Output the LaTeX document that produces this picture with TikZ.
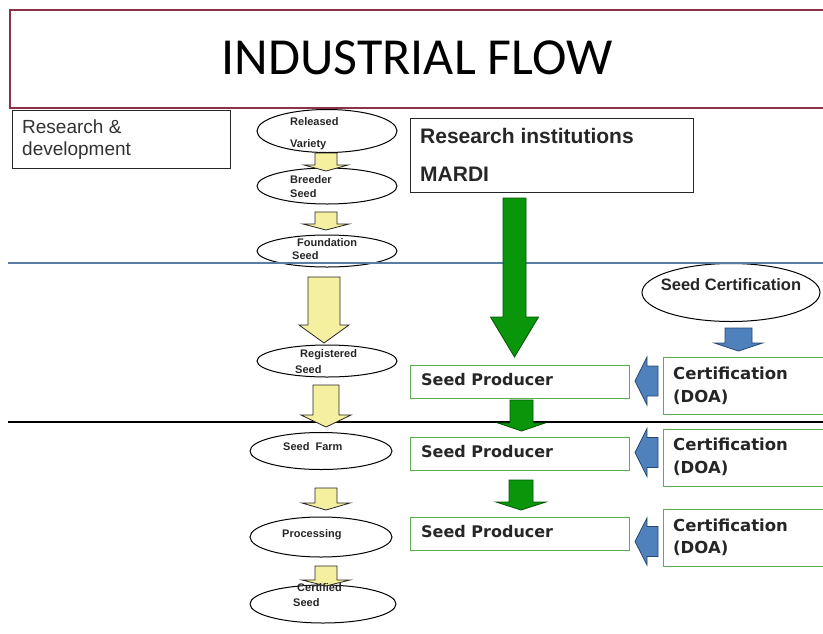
\documentclass[tikz,border=0pt]{standalone}
\usepackage{fontspec}
\setmainfont{Liberation Sans}
\newfontfamily\titlefont{Carlito}
\newfontfamily\dvfont{DejaVu Sans}
\usetikzlibrary{shapes.geometric}
\definecolor{titlered}{RGB}{140,50,70}
\definecolor{lineblue}{RGB}{90,125,165}
\definecolor{boxgreen}{RGB}{90,175,80}
\definecolor{arrgreen}{RGB}{10,150,10}
\definecolor{arrgreendk}{RGB}{0,85,0}
\definecolor{arrblue}{RGB}{79,129,189}
\definecolor{arrbluedk}{RGB}{40,70,110}
\definecolor{arryel}{RGB}{245,240,160}
% down block arrow: cx, top, headbase, tip, halfblock, halfhead, style
\newcommand{\dblock}[7]{\draw[#7] (#1-#5,#2) -- (#1+#5,#2) -- (#1+#5,#3) -- (#1+#6,#3) -- (#1,#4) -- (#1-#6,#3) -- (#1-#5,#3) -- cycle;}
% left block arrow: cy, xright, xbase, xtip, halfblock, halfhead, style
\newcommand{\lblock}[7]{\draw[#7] (#2,#1-#5) -- (#3,#1-#5) -- (#3,#1-#6) -- (#4,#1) -- (#3,#1+#6) -- (#3,#1+#5) -- (#2,#1+#5) -- cycle;}
\tikzset{
  seedell/.style={ellipse, draw=black, line width=1pt, fill=white, inner sep=0},
  yarr/.style={fill=arryel, draw=black!85, line width=0.8pt},
  garr/.style={fill=arrgreen, draw=arrgreendk, line width=0.8pt},
  barr/.style={fill=arrblue, draw=arrbluedk, line width=0.8pt},
  prodbox/.style={draw=boxgreen, line width=1.2pt, minimum width=219pt, minimum height=33pt, anchor=north west, inner sep=0},
  certbox/.style={draw=boxgreen, line width=1.2pt, minimum width=180pt, minimum height=57pt, anchor=north west, inner sep=0},
  blackbox/.style={draw=black!85, line width=1.2pt, anchor=north west, inner sep=0},
  lbl/.style={anchor=base west, inner sep=0, font=\fontsize{11}{11}\selectfont\bfseries, text=black!85},
  prodtxt/.style={anchor=base west, inner sep=0, font=\dvfont\bfseries\fontsize{16}{16}\selectfont, text=black!85},
  certtxt/.style={anchor=base west, inner sep=0, font=\dvfont\bfseries\fontsize{16.5}{16.5}\selectfont, text=black!85},
}
\begin{document}
\begin{tikzpicture}[x=1pt,y=-1pt]
\useasboundingbox (0,0) rectangle (823,633);
\fill[white] (0,0) rectangle (823,633);
% title
\node[draw=titlered, line width=1.5pt, minimum width=830pt, minimum height=98pt, anchor=north west, inner sep=0] (titlebox) at (9,9) {};
\node[font=\titlefont\fontsize{52}{52}\selectfont, inner sep=0] (title) at (417,58) {INDUSTRIAL FLOW};
% research & development
\node[blackbox, minimum width=218pt, minimum height=58pt] (rdbox) at (12,110) {};
\node[anchor=base west, inner sep=0, font=\fontsize{19}{19}\selectfont, text=black!80] (rd1) at (22,133) {Research \&};
\node[anchor=base west, inner sep=0, font=\fontsize{19}{19}\selectfont, text=black!80] (rd2) at (22,155) {development};
% research institutions
\node[blackbox, minimum width=283pt, minimum height=74pt] (ribox) at (410,118) {};
\node[anchor=base west, inner sep=0, font=\bfseries\fontsize{21}{21}\selectfont, text=black!85] (ri1) at (420,143) {Research institutions};
\node[anchor=base west, inner sep=0, font=\bfseries\fontsize{21}{21}\selectfont, text=black!85] (ri2) at (420,181) {MARDI};
% ellipses left column
\node[seedell, minimum width=140pt, minimum height=43pt] (rel) at (327,131) {};
\node[seedell, minimum width=140pt, minimum height=36pt] (bre) at (327,186) {};
\node[seedell, minimum width=140pt, minimum height=32pt] (fou) at (327,251) {};
\node[seedell, minimum width=140pt, minimum height=32pt] (reg) at (327,361) {};
\node[seedell, minimum width=142pt, minimum height=37pt] (farm) at (321,451) {};
\node[seedell, minimum width=142pt, minimum height=40pt] (proc) at (321,537) {};
\node[seedell, minimum width=146pt, minimum height=38pt] (cert) at (323,604) {};
% seed certification
\node[seedell, minimum width=178pt, minimum height=58pt] (scert) at (731,292.5) {};
\node[anchor=base, inner sep=0, font=\bfseries\fontsize{16.5}{16.5}\selectfont, text=black!85] (sctxt) at (731,290) {Seed Certification};
% producer boxes
\node[prodbox] (p1) at (410,365) {};
\node[prodbox] (p2) at (410,437) {};
\node[prodbox] (p3) at (410,517) {};
\node[prodtxt] (p1t) at (421,385) {Seed Producer};
\node[prodtxt] (p2t) at (421,457) {Seed Producer};
\node[prodtxt] (p3t) at (421,537) {Seed Producer};
% certification boxes
\node[certbox] (c1) at (663,357) {};
\node[certbox] (c2) at (663,429) {};
\node[certbox] (c3) at (663,509) {};
\node[certtxt] (c1a) at (673,379) {Certification};
\node[certtxt] (c1b) at (673,402) {(DOA)};
\node[certtxt] (c2a) at (673,450) {Certification};
\node[certtxt] (c2b) at (673,473) {(DOA)};
\node[certtxt] (c3a) at (673,531) {Certification};
\node[certtxt] (c3b) at (673,553) {(DOA)};
% divider lines
\coordinate (bl1) at (8,263); \coordinate (bl2) at (823,263);
\coordinate (kl1) at (8,422); \coordinate (kl2) at (823,422);
\draw[lineblue, line width=2pt] (bl1) -- (bl2);
\draw[black, line width=2.6pt] (kl1) -- (kl2);
% yellow arrows
\dblock{326}{153}{165}{171}{11}{22}{yarr}
\dblock{326}{212}{224}{230}{11}{23}{yarr}
\dblock{324}{277}{325}{343}{16}{25}{yarr}
\dblock{326}{385}{415}{427}{13}{25}{yarr}
\dblock{326}{488}{503}{510}{11}{24}{yarr}
\dblock{326}{566}{580}{586}{11}{24}{yarr}
% green arrows
\dblock{514.5}{198}{317}{357}{11.5}{24}{garr}
\dblock{521.5}{400}{423}{431}{11.5}{23.5}{garr}
\dblock{521}{480}{502}{510}{12}{25}{garr}
% blue arrows
\dblock{738.5}{328}{343}{351}{13.5}{24}{barr}
\lblock{381}{658}{647}{635}{15}{24}{barr}
\lblock{452.5}{658}{647}{635}{15}{24}{barr}
\lblock{541.5}{658}{647}{635}{15}{23.5}{barr}
% ellipse labels (on top)
\node[lbl] (l1a) at (290,125) {Released};
\node[lbl] (l1b) at (290,147) {Variety};
\node[lbl] (l2a) at (290,183) {Breeder};
\node[lbl] (l2b) at (290,197) {Seed};
\node[lbl] (l3a) at (297,246) {Foundation};
\node[lbl] (l3b) at (292,259) {Seed};
\node[lbl] (l4a) at (300,357) {Registered};
\node[lbl] (l4b) at (295,373) {Seed};
\node[lbl] (l5a) at (283,450) {Seed\ \ Farm};
\node[lbl] (l6a) at (282,537) {Processing};
\node[lbl] (l7a) at (297,591) {Certified};
\node[lbl] (l7b) at (293,606) {Seed};
\end{tikzpicture}
\end{document}
